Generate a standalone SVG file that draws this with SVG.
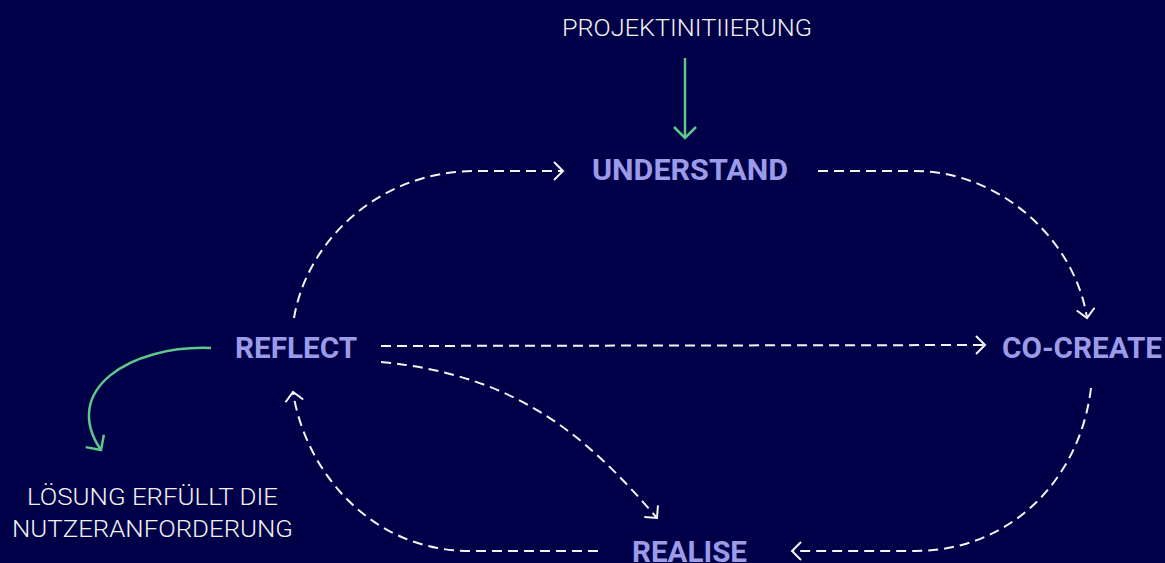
<svg xmlns="http://www.w3.org/2000/svg" width="1165" height="563" viewBox="0 0 1165 563">
<style>
.node{font-family:"Roboto","Liberation Sans",sans-serif;font-weight:bold;font-size:29px;fill:#9b9be8}
.lbl{font-family:"Roboto","Liberation Sans",sans-serif;font-weight:300;font-size:24px;fill:#f2f2f2}
.dash{fill:none;stroke:#f4f4f4;stroke-width:2;stroke-dasharray:10 6}
.green{fill:none;stroke:#5ec88a;stroke-width:2.5}
</style>
<defs>
<marker id="aw" markerUnits="userSpaceOnUse" markerWidth="30" markerHeight="30" viewBox="-15 -15 30 30" refX="0" refY="0" orient="auto">
<path d="M-9,-9 L0,0 L-9,9" fill="none" stroke="#f4f4f4" stroke-width="2"/>
</marker>
<marker id="ag" markerUnits="userSpaceOnUse" markerWidth="30" markerHeight="30" viewBox="-15 -15 30 30" refX="0" refY="0" orient="auto">
<path d="M-11,-11 L0,0 L-11,11" fill="none" stroke="#5ec88a" stroke-width="2.5"/>
</marker>
</defs>
<rect width="1165" height="563" fill="#000048"/>
<g id="connectors">
<path class="green" d="M685,58 L685,138" marker-end="url(#ag)"/>
<path class="green" d="M211,348 C130,345 60,390 101,450" marker-end="url(#ag)"/>
<path class="dash" d="M294,318 C307,240 380,171 475,171 L563,171" marker-end="url(#aw)"/>
<path class="dash" d="M818,171 L915,171 C1000,171 1075,240 1087,318" marker-end="url(#aw)"/>
<path class="dash" d="M381,346 L985,345" marker-end="url(#aw)"/>
<path class="dash" d="M381,362 C520,375 590,440 657,518" marker-end="url(#aw)"/>
<path class="dash" d="M1091,388 C1080,480 1010,551 915,551 L792,551" marker-end="url(#aw)"/>
<path class="dash" d="M598,551 L470,551 C370,551 305,470 293,392" marker-end="url(#aw)"/>
</g>
<g id="projektinitiierung"><text class="lbl" x="562" y="36" textLength="250" lengthAdjust="spacingAndGlyphs">PROJEKTINITIIERUNG</text></g>
<g id="understand"><text class="node" x="592" y="180" textLength="196" lengthAdjust="spacingAndGlyphs">UNDERSTAND</text></g>
<g id="reflect"><text class="node" x="235" y="358" textLength="122" lengthAdjust="spacingAndGlyphs">REFLECT</text></g>
<g id="cocreate"><text class="node" x="1002" y="358" textLength="160" lengthAdjust="spacingAndGlyphs">CO-CREATE</text></g>
<g id="realise"><text class="node" x="632" y="562" textLength="115" lengthAdjust="spacingAndGlyphs">REALISE</text></g>
<g id="loesung">
<text class="lbl" x="27" y="505" textLength="251" lengthAdjust="spacingAndGlyphs">LÖSUNG ERFÜLLT DIE</text>
<text class="lbl" x="12" y="537" textLength="281" lengthAdjust="spacingAndGlyphs">NUTZERANFORDERUNG</text>
</g>
</svg>
